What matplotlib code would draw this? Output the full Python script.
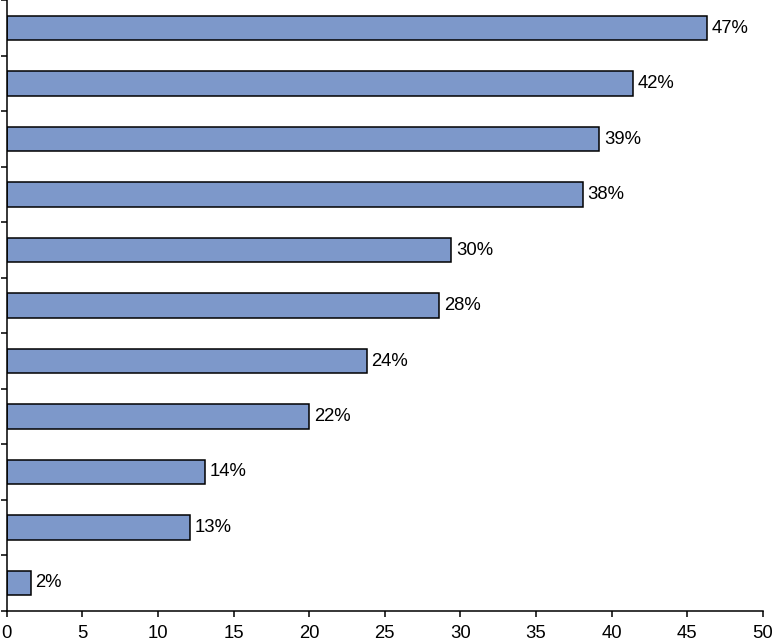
import matplotlib
matplotlib.use("Agg")
import matplotlib.pyplot as plt
from matplotlib.ticker import FixedLocator

# bar lengths, top bar first
values = [46.3, 41.4, 39.2, 38.1, 29.4, 28.6, 23.8, 20.0, 13.1, 12.1, 1.6]
labels = ["47%", "42%", "39%", "38%", "30%", "28%", "24%", "22%", "14%", "13%", "2%"]
x_ticks = [0, 5, 10, 15, 20, 25, 30, 35, 40, 45, 50]

plt.rcParams['font.family'] = ['Liberation Sans', 'DejaVu Sans']

fig = plt.figure(figsize=(7.72, 6.42), dpi=100)
ax = fig.add_axes([0.0087, 0.0488, 0.9793, 0.9505])

n = len(values)
pos = [n - 1 - i for i in range(n)]
ax.barh(pos, values, height=0.44, color='#7D98CA', edgecolor='black', linewidth=1.1)

for p, v, lab in zip(pos, values, labels):
    ax.text(v + 0.3, p, lab, va='center', ha='left', fontsize=13.3)

ax.set_xlim(0, 50)
ax.set_ylim(-0.5, n - 0.5)
ax.set_xticks(x_ticks)
ax.tick_params(axis='x', labelsize=13.3, length=4.5, width=1.1, direction='out', pad=5.5)

# y ticks sit on the category boundaries, no labels
ax.yaxis.set_major_locator(FixedLocator([k - 0.5 for k in range(n + 1)]))
ax.tick_params(axis='y', labelleft=False, length=4.5, width=1.1, direction='out')

ax.spines['top'].set_visible(False)
ax.spines['right'].set_visible(False)
ax.spines['left'].set_linewidth(1.1)
ax.spines['bottom'].set_linewidth(1.1)

fig.savefig('out.png', dpi=100)
